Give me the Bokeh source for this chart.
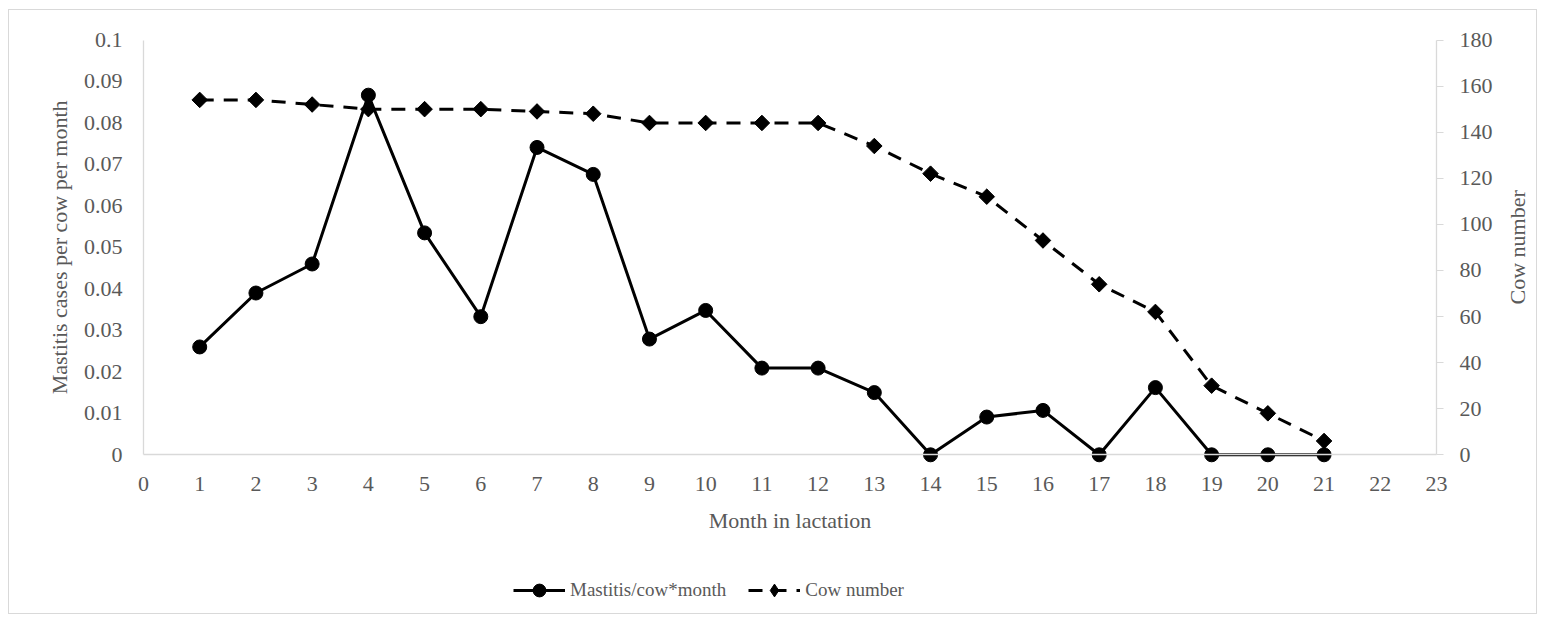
import math
from bokeh.plotting import figure
from bokeh.models import (Range1d, LinearAxis, FixedTicker, Legend, LegendItem,
                          ColumnDataSource, Label)
from bokeh.embed import file_html
from bokeh.resources import INLINE

months = list(range(1, 22))
mastitis = [0.026, 0.039, 0.046, 0.0867, 0.0535, 0.0333, 0.0741, 0.0676, 0.0279,
            0.0348, 0.0209, 0.0209, 0.015, 0.0, 0.0091, 0.0107, 0.0, 0.0162,
            0.0, 0.0, 0.0]
cow_number = [154, 154, 152, 150, 150, 150, 149, 148, 144, 144, 144, 144, 134,
              122, 112, 93, 74, 62, 30, 18, 6]

x_ticks = list(range(0, 24))
left_ticks = [0, 0.01, 0.02, 0.03, 0.04, 0.05, 0.06, 0.07, 0.08, 0.09, 0.1]
left_tick_labels = ["0", "0.01", "0.02", "0.03", "0.04", "0.05", "0.06", "0.07",
                    "0.08", "0.09", "0.1"]
right_ticks = [0, 20, 40, 60, 80, 100, 120, 140, 160, 180]

FONT = "Liberation Serif"
GRAY_TXT = "#595959"
GRAY_LINE = "#d9d9d9"

# ---- layout (pixels inside the canvas) ----
W, H = 1529, 605
AX_L, AX_R = 134, 1427        # x = 0 and x = 23
AX_T, AX_B = 29.5, 444.3      # y = 0.1 and y = 0
X_MAX, Y_MAX, COW_MAX = 23, 0.1, 180
xs = (AX_R - AX_L) / X_MAX
ys = (AX_B - AX_T) / Y_MAX
x0, x1 = -AX_L / xs, X_MAX + (W - AX_R) / xs
y0, y1 = -(H - AX_B) / ys, Y_MAX + AX_T / ys

p = figure(width=W, height=H, output_backend="svg", toolbar_location=None,
           x_range=Range1d(x0, x1), y_range=Range1d(y0, y1),
           min_border_left=0, min_border_right=0, min_border_top=0,
           min_border_bottom=0)
p.margin = (9, 0, 0, 8)
p.styles = {"border": "1px solid #d9d9d9"}
p.outline_line_color = None
p.xgrid.visible = False
p.ygrid.visible = False
p.extra_y_ranges = {"cow": Range1d(y0 / Y_MAX * COW_MAX, y1 / Y_MAX * COW_MAX)}

src = ColumnDataSource(dict(m=months, mast=mastitis, cow=cow_number))

l1 = p.line("m", "mast", source=src, line_color="black", line_width=3)
s1 = p.scatter("m", "mast", source=src, marker="circle", size=14,
               fill_color="black", line_color="black")
l2 = p.line("m", "cow", source=src, y_range_name="cow", line_color="black",
            line_width=3, line_dash="14 10")
s2k = p.scatter("m", "cow", source=src, y_range_name="cow", marker="diamond",
                size=14, fill_color="black", line_color="black")
s2 = p.scatter("m", "cow", source=src, y_range_name="cow", marker="square",
               size=11, angle=math.pi / 4, fill_color="black", line_color="black")

# x axis
xa = p.xaxis[0]
xa.ticker = FixedTicker(ticks=x_ticks)
xa.axis_label = "Month in lactation"
xa.fixed_location = 0
xa.bounds = (0, X_MAX)

# left axis
ya = p.yaxis[0]
ya.ticker = FixedTicker(ticks=left_ticks)
ya.major_label_overrides = {t: s for t, s in zip(left_ticks, left_tick_labels)}
ya.fixed_location = 0
ya.bounds = (0, Y_MAX)

# right axis
ra = LinearAxis(y_range_name="cow", ticker=FixedTicker(ticks=right_ticks),
                bounds=(0, COW_MAX), fixed_location=X_MAX)
p.add_layout(ra, "right")

for ax in (xa, ya, ra):
    ax.axis_line_color = GRAY_LINE
    ax.axis_line_width = 1.3
    ax.major_tick_line_color = GRAY_LINE
    ax.minor_tick_line_color = None
    ax.major_label_text_font = FONT
    ax.major_label_text_font_size = "22px"
    ax.major_label_text_color = GRAY_TXT
    ax.axis_label_text_font = FONT
    ax.axis_label_text_font_size = "22px"
    ax.axis_label_text_color = GRAY_TXT
    ax.axis_label_text_font_style = "normal"

xa.major_tick_out = 0
xa.major_tick_in = 0
xa.major_label_standoff = 22
xa.axis_label_standoff = 14
ya.major_tick_out = 0
ya.major_tick_in = 0
ya.major_label_standoff = 21
ra.major_tick_out = 7
ra.major_tick_in = 0
ra.major_label_standoff = 16

# y-axis titles, centred on their axes
p.add_layout(Label(x=(50 - AX_L) / xs, y=Y_MAX / 2,
                   text="Mastitis cases per cow per month", angle=math.pi / 2,
                   text_align="center", text_baseline="middle",
                   text_font=FONT, text_font_size="22px", text_color=GRAY_TXT))
p.add_layout(Label(x=X_MAX + (1508 - AX_R) / xs, y=COW_MAX / 2, y_range_name="cow",
                   text="Cow number", angle=math.pi / 2,
                   text_align="center", text_baseline="middle",
                   text_font=FONT, text_font_size="22px", text_color=GRAY_TXT))

legend = Legend(items=[LegendItem(label="Mastitis/cow*month", renderers=[l1, s1]),
                       LegendItem(label="Cow number", renderers=[l2, s2k])],
                location=(504, 9), orientation="horizontal",
                glyph_width=52, glyph_height=32, label_height=32,
                label_standoff=5, spacing=22, padding=0, margin=0,
                border_line_color=None, background_fill_alpha=0,
                label_text_font=FONT, label_text_font_size="19px",
                label_text_color=GRAY_TXT)
p.add_layout(legend, "center")

open("out.html", "w").write(file_html(p, INLINE))
